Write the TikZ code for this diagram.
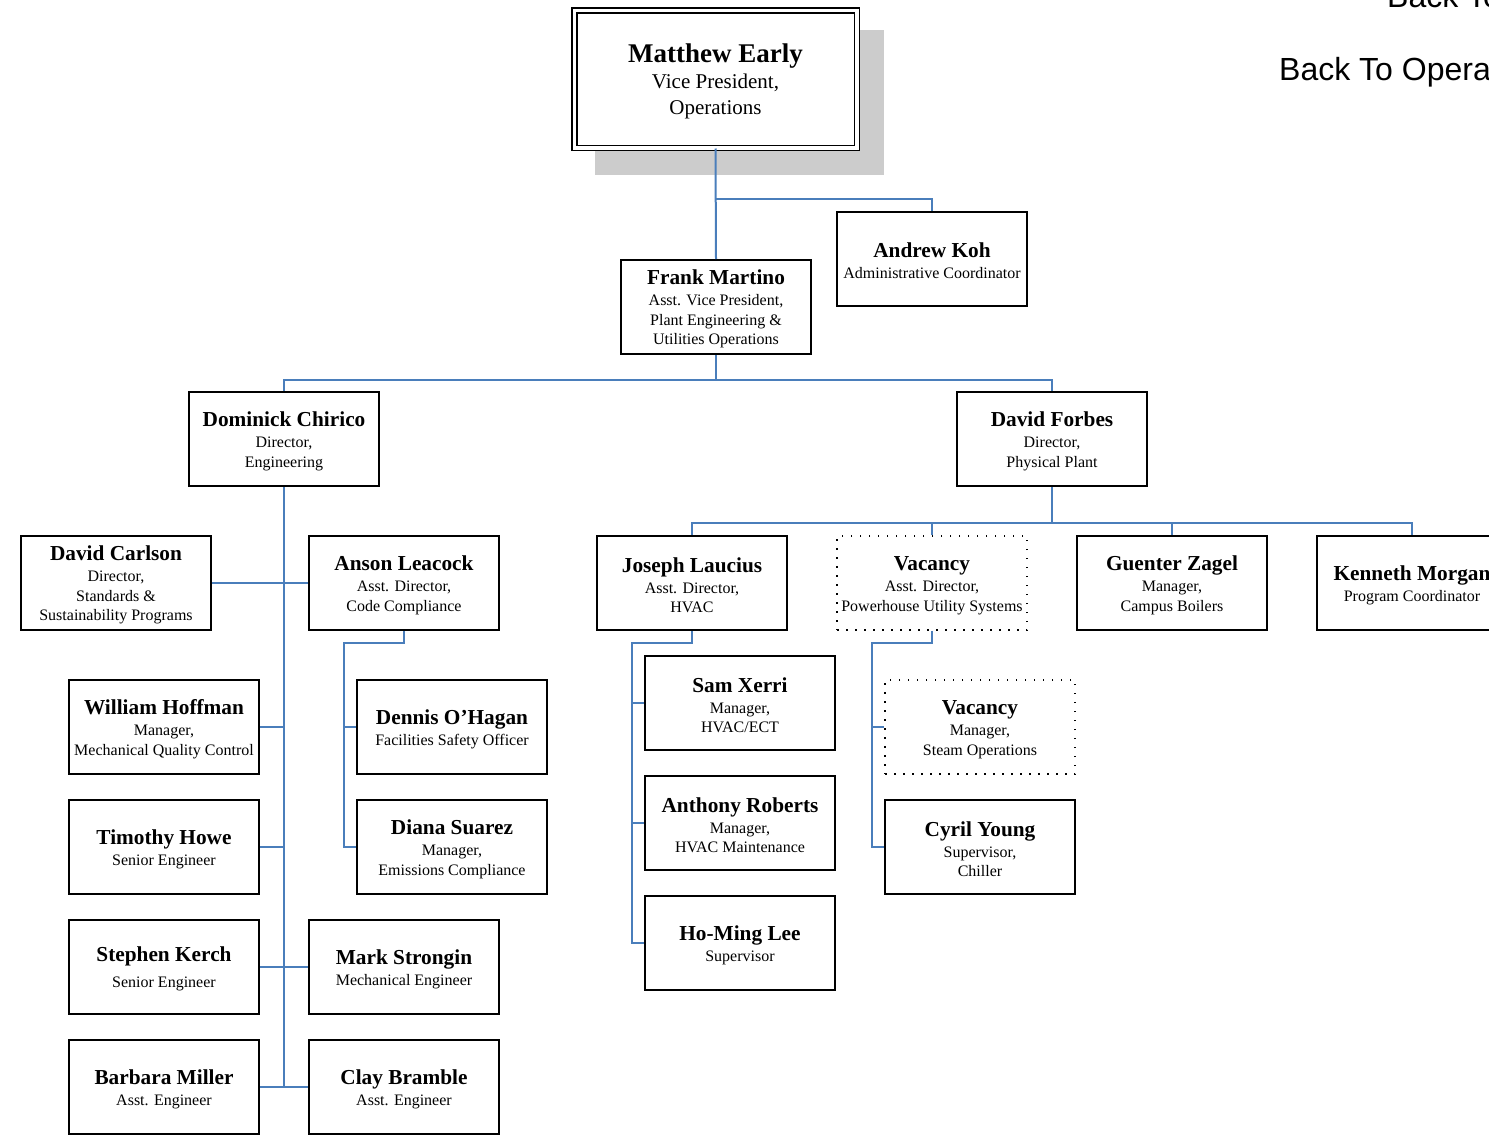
\documentclass[tikz,border=0pt]{standalone}
\usepackage{fontspec}
\setmainfont{Liberation Serif}
\newfontfamily\linkfont{Liberation Sans}
\definecolor{linkblue}{HTML}{4A7EBB}
\definecolor{shadowgray}{HTML}{CCCCCC}
\newcommand\who[1]{{\fontsize{21.3}{23}\selectfont\bfseries\rule{0pt}{19pt}#1}}

\begin{document}
\begin{tikzpicture}[x=1pt, y=-1pt,
  staff/.style={draw, line width=2pt, fill=white, minimum width=190pt, minimum height=94pt, inner sep=0pt, align=center, font=\fontsize{16}{19.5}\selectfont},
  vacant/.style={staff, line width=1.5pt, dash pattern=on 1.5pt off 7.5pt},
  chief/.style={draw, line width=1.5pt, double, double distance=3.5pt, fill=white, minimum width=282.5pt, minimum height=137.5pt, inner sep=0pt, align=center, font=\fontsize{21}{26}\selectfont},
  link/.style={draw=linkblue, line width=2pt},
  backto/.style={anchor=base west, inner sep=0pt, font=\linkfont\fontsize{32}{36}\selectfont}]
          \useasboundingbox (0,0) rectangle (1489,1135);
          \fill[shadowgray] (595,30) rectangle (884,175);
          \node[chief](matthew)   at (715.5,79)  {{\fontsize{27}{29}\selectfont\bfseries\rule{0pt}{24pt}Matthew Early}\\[0pt] Vice President,\\ Operations};
          \node[backto](backtop)  at (1387,8)    {Back To};
          \node[backto](backops)  at (1279,80)   {Back To Opera};
          \node[staff](koh)       at (932,259)   {\who{Andrew Koh}\\[1.5pt] Administrative Coordinator};
          \node[staff](frank)     at (716,307)   {\who{Frank Martino}\\[1.5pt] Asst. Vice President,\\ Plant Engineering \&\\ Utilities Operations};
          \node[staff](chirico)   at (284,439)   {\who{Dominick Chirico}\\[1.5pt] Director,\\ Engineering};
          \node[staff](forbes)    at (1052,439)  {\who{David Forbes}\\[1.5pt] Director,\\ Physical Plant};
          \node[staff](carlson)   at (116,583)   {\who{David Carlson}\\[1.5pt] Director,\\ Standards \&\\ Sustainability Programs};
          \node[staff](anson)     at (404,583)   {\who{Anson Leacock}\\[1.5pt] Asst. Director,\\ Code Compliance};
          \node[staff](joseph)    at (692,583)   {\who{Joseph Laucius}\\[1.5pt] Asst. Director,\\ HVAC};
          \node[vacant](power)    at (932,583)   {\who{Vacancy}\\[1.5pt] Asst. Director,\\ Powerhouse Utility Systems};
          \node[staff](zagel)     at (1172,583)  {\who{Guenter Zagel}\\[1.5pt] Manager,\\ Campus Boilers};
          \node[staff](morgan)    at (1412,583)  {\who{Kenneth Morgan}\\[1.5pt] Program Coordinator};
          \node[staff](william)   at (164,727)   {\who{William Hoffman}\\[1.5pt] Manager,\\ Mechanical Quality Control};
          \node[staff](dennis)    at (452,727)   {\who{Dennis O’Hagan}\\[1.5pt] Facilities Safety Officer};
          \node[staff](sam)       at (740,703)   {\who{Sam Xerri}\\[1.5pt] Manager,\\ HVAC/ECT};
          \node[vacant](steam)    at (980,727)   {\who{Vacancy}\\[1.5pt] Manager,\\ Steam Operations};
          \node[staff](timothy)   at (164,847)   {\who{Timothy Howe}\\[1.5pt] Senior Engineer};
          \node[staff](diana)     at (452,847)   {\who{Diana Suarez}\\[1.5pt] Manager,\\ Emissions Compliance};
          \node[staff](anthony)   at (740,823)   {\who{Anthony Roberts}\\[1.5pt] Manager,\\ HVAC Maintenance};
          \node[staff](cyril)     at (980,847)   {\who{Cyril Young}\\[1.5pt] Supervisor,\\ Chiller};
          \node[staff](stephen)   at (164,967)   {\who{Stephen Kerch}\\[6.5pt] Senior Engineer};
          \node[staff](mark)      at (404,967)   {\who{Mark Strongin}\\[1.5pt] Mechanical Engineer};
          \node[staff](homing)    at (740,943)   {\who{Ho-Ming Lee}\\[1.5pt] Supervisor};
          \node[staff](barbara)   at (164,1087)  {\who{Barbara Miller}\\[1.5pt] Asst. Engineer};
          \node[staff](clay)      at (404,1087)  {\who{Clay Bramble}\\[1.5pt] Asst. Engineer};
          \coordinate (kohjoin)   at (716,199);
          \coordinate (dirbus)    at (716,380);
          \coordinate (plantbus)  at (1052,523);
          \coordinate (ansonjoin) at (344,643);
          \coordinate (hvacjoin)  at (632,643);
          \coordinate (powerjoin) at (872,643);
          \draw[link] (matthew.south) -- (frank.north);
          \draw[link] (kohjoin) -| (koh.north);
          \draw[link] (frank.south) -- (dirbus);
          \draw[link] (chirico.north) |- (dirbus) -| (forbes.north);
          \draw[link] (chirico.south) -- (chirico.south |- clay.west);
          \draw[link] (carlson.east) -- (anson.west);
          \draw[link] (william.east) -- (william.east -| chirico.south);
          \draw[link] (timothy.east) -- (timothy.east -| chirico.south);
          \draw[link] (stephen.east) -- (mark.west);
          \draw[link] (barbara.east) -- (clay.west);
          \draw[link] (anson.south) |- (ansonjoin) |- (diana.west);
          \draw[link] (ansonjoin |- dennis.west) -- (dennis.west);
          \draw[link] (forbes.south) -- (plantbus);
          \draw[link] (joseph.north) |- (plantbus) -| (morgan.north);
          \draw[link] (power.north) -- (power.north |- plantbus);
          \draw[link] (zagel.north) -- (zagel.north |- plantbus);
          \draw[link] (joseph.south) |- (hvacjoin) |- (homing.west);
          \draw[link] (hvacjoin |- sam.west) -- (sam.west);
          \draw[link] (hvacjoin |- anthony.west) -- (anthony.west);
          \draw[link] (power.south) |- (powerjoin) |- (cyril.west);
          \draw[link] (powerjoin |- steam.west) -- (steam.west);
        \end{tikzpicture}
\end{document}
